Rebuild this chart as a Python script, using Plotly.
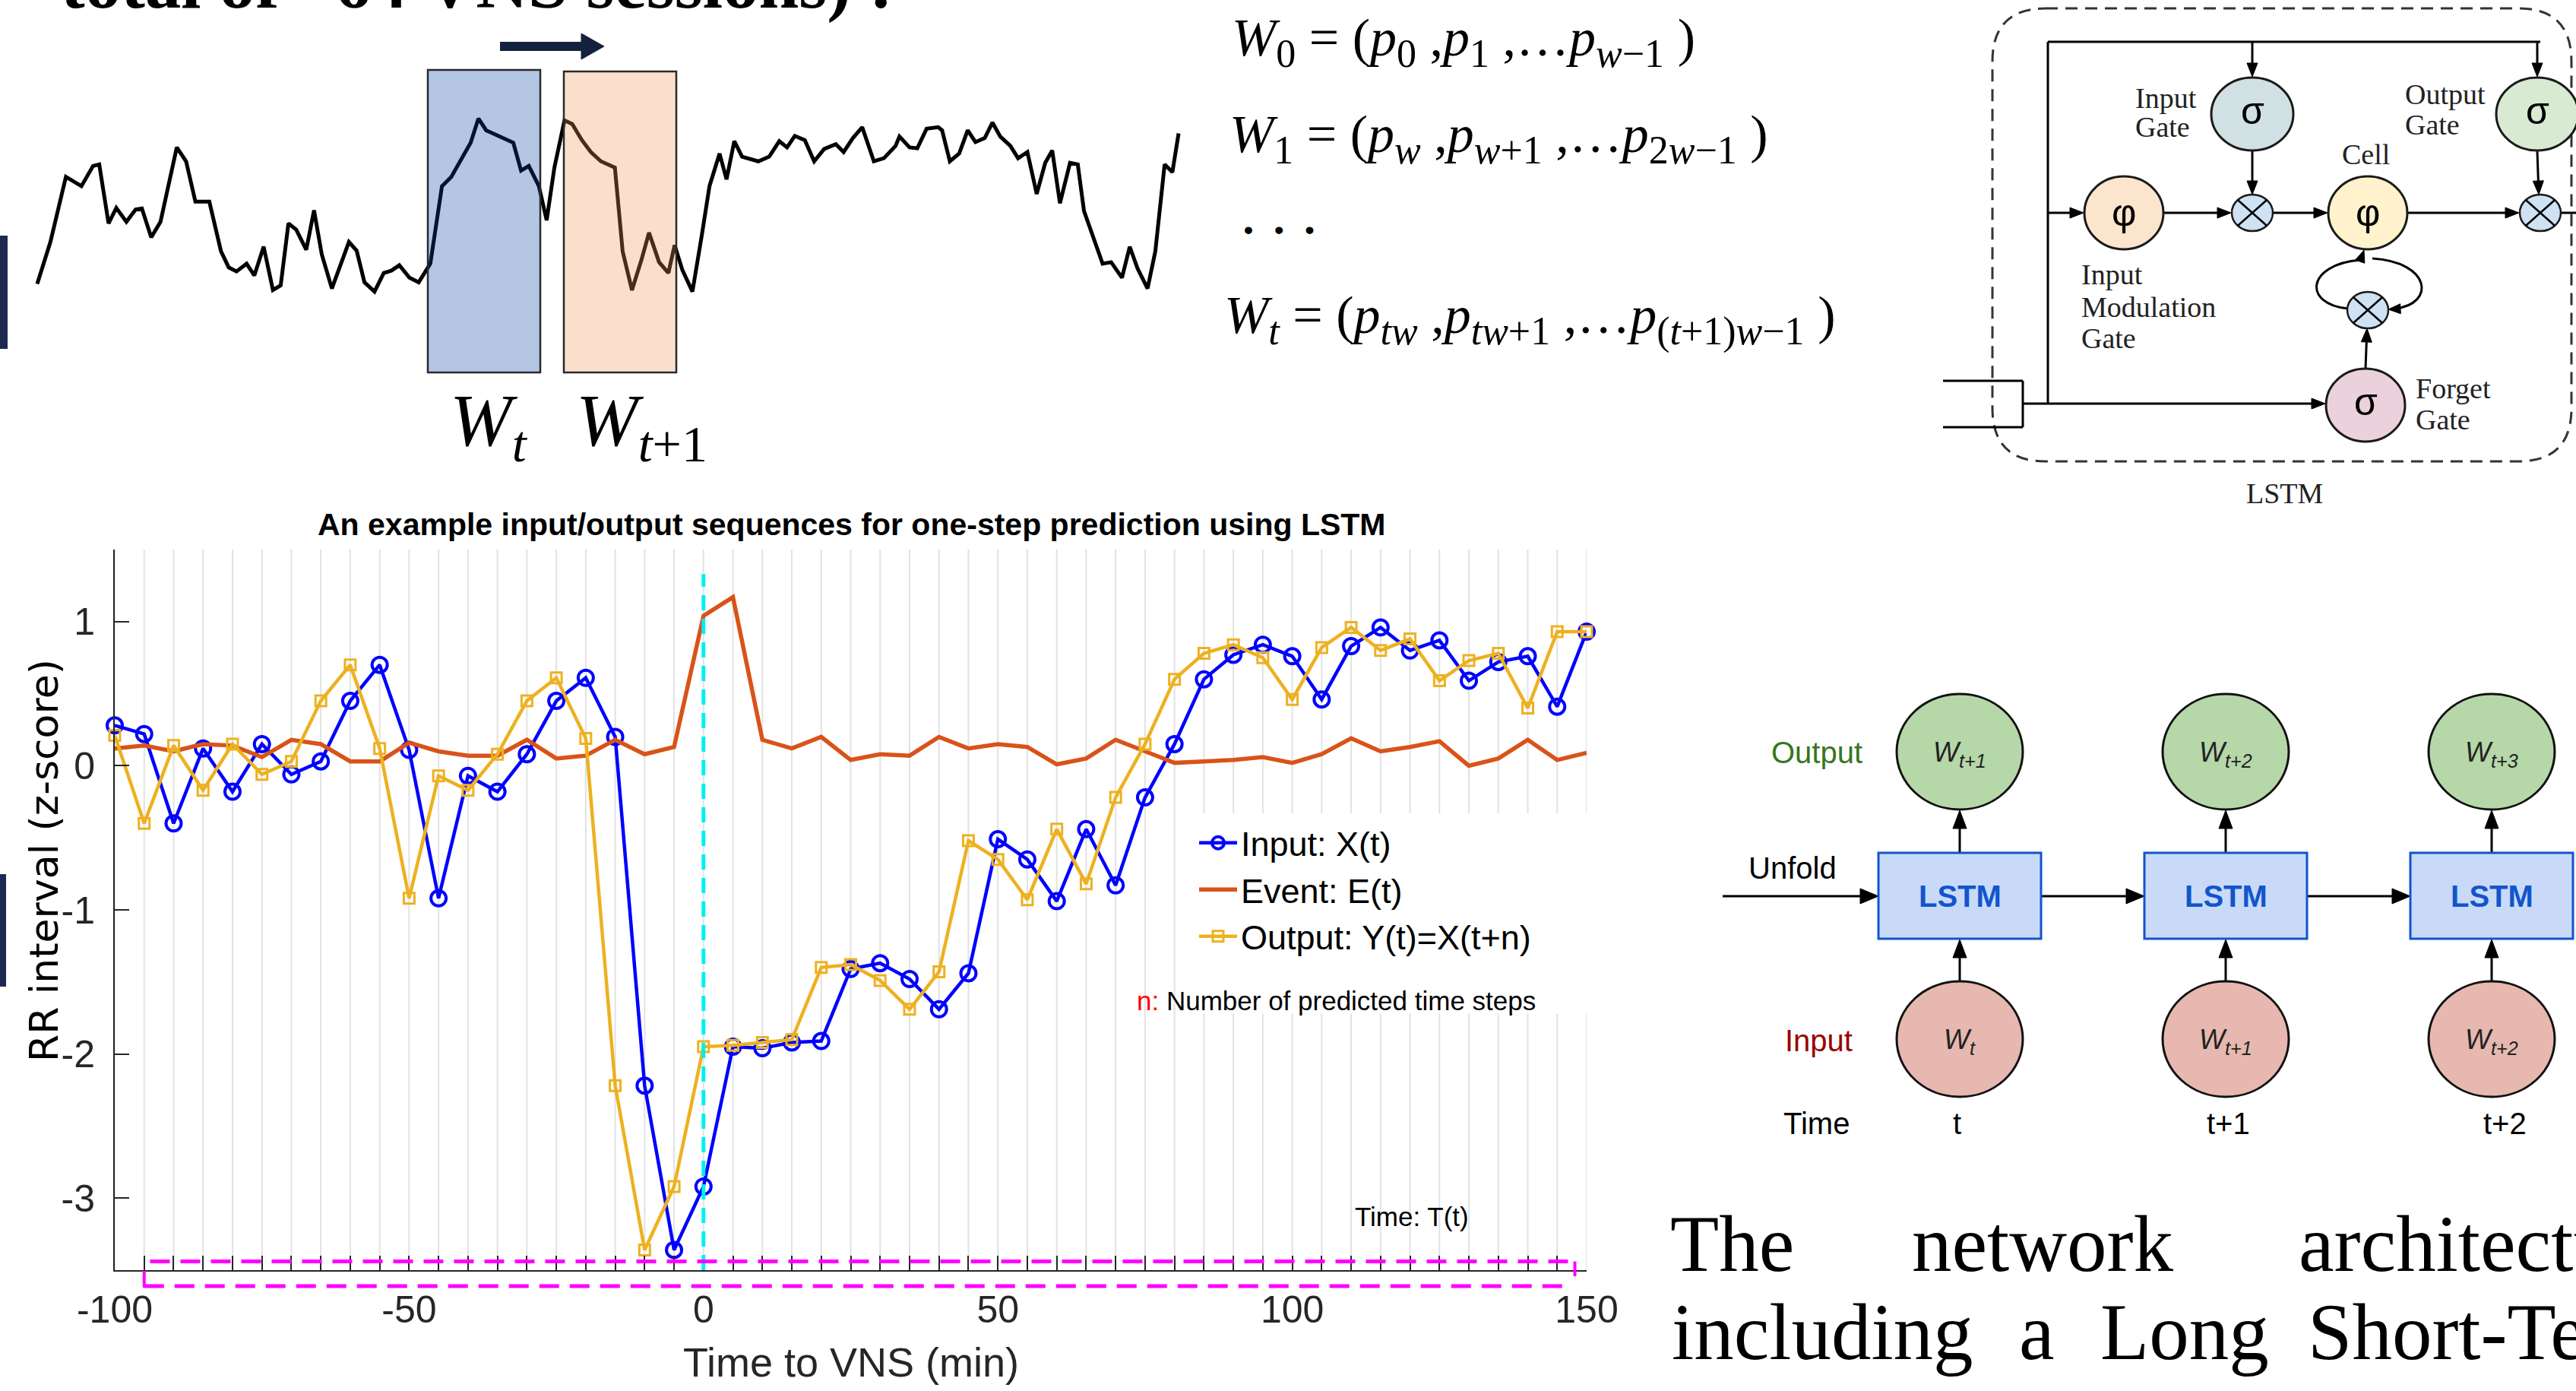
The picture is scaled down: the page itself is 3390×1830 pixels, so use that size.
import math
import plotly.graph_objects as go

W, H = 3390, 1830
SANS = "Liberation Sans, Arial, sans-serif"
SERIF = "Liberation Serif, Times New Roman, serif"


def X(p):
    return p / W


def Y(p):
    return 1 - p / H


# ---------------- main chart data ----------------
time_min = [-100, -95, -90, -85, -80, -75, -70, -65, -60, -55,
            -50, -45, -40, -35, -30, -25, -20, -15, -10, -5,
            0, 5, 10, 15, 20, 25, 30, 35, 40, 45,
            50, 55, 60, 65, 70, 75, 80, 85, 90, 95,
            100, 105, 110, 115, 120, 125, 130, 135, 140, 145, 150]
input_x = [0.28, 0.22, -0.40, 0.12, -0.18, 0.15, -0.06, 0.03, 0.45, 0.70,
           0.11, -0.92, -0.07, -0.18, 0.08, 0.45, 0.61, 0.20, -2.22, -3.36,
           -2.92, -1.95, -1.96, -1.92, -1.91, -1.41, -1.37, -1.48, -1.69, -1.44,
           -0.51, -0.65, -0.94, -0.44, -0.83, -0.22, 0.15, 0.60, 0.77, 0.84,
           0.76, 0.46, 0.83, 0.96, 0.80, 0.87, 0.59, 0.72, 0.76, 0.41, 0.93]
event_e = [0.12, 0.14, 0.10, 0.15, 0.14, 0.06, 0.18, 0.15, 0.03, 0.03,
           0.16, 0.10, 0.07, 0.07, 0.18, 0.05, 0.07, 0.18, 0.08, 0.13,
           1.04, 1.17, 0.18, 0.12, 0.20, 0.04, 0.08, 0.07, 0.20, 0.12,
           0.15, 0.13, 0.01, 0.05, 0.18, 0.10, 0.02, 0.03, 0.04, 0.06,
           0.02, 0.08, 0.19, 0.10, 0.13, 0.17, 0.00, 0.05, 0.18, 0.04, 0.09]
output_y = [0.21, -0.40, 0.14, -0.17, 0.15, -0.06, 0.03, 0.45, 0.70, 0.12,
            -0.92, -0.07, -0.17, 0.08, 0.45, 0.61, 0.19, -2.22, -3.36, -2.92,
            -1.95, -1.94, -1.92, -1.90, -1.40, -1.38, -1.49, -1.69, -1.43, -0.52,
            -0.65, -0.93, -0.44, -0.82, -0.22, 0.15, 0.60, 0.78, 0.84, 0.75,
            0.46, 0.82, 0.96, 0.80, 0.88, 0.59, 0.73, 0.78, 0.40, 0.93, 0.93]
xtick_labels = {-100: "-100", -50: "-50", 0: "0", 50: "50", 100: "100", 150: "150"}
ytick_vals = [-3, -2, -1, 0, 1]
ytick_text = ["-3", "-2", "-1", "0", "1"]

# ---------------- top-left RR signal sketch ----------------
sig_t = [48, 65, 85, 105, 120, 128, 140, 150, 163, 175, 183, 195, 207, 228, 240, 252, 270, 285,
         295, 305, 318, 328, 340, 352, 362, 372, 382, 395, 405, 415, 428, 450, 460, 470, 483,
         495, 505, 515, 528, 540, 555, 570, 582, 595, 607, 617, 627, 640, 655, 662, 672, 682,
         695, 705, 715, 728, 738, 750, 762, 775, 793, 803, 815, 827, 837, 850, 862, 870, 880,
         893, 905, 915, 928, 937, 947, 957, 978, 992, 1005, 1015, 1025, 1038, 1050, 1063, 1078,
         1088, 1100, 1112, 1127, 1140, 1155, 1160, 1173, 1183, 1195, 1210, 1215, 1225, 1237,
         1248, 1258, 1270, 1280, 1290, 1303, 1313, 1325, 1337, 1348, 1357, 1367, 1380, 1390,
         1398, 1410, 1422, 1433, 1447, 1457, 1467, 1480, 1490, 1502, 1512, 1520]
sig_v = [0.85, 2.20, 4.30, 4.00, 4.65, 4.70, 2.80, 3.30, 2.85, 3.25, 3.28, 2.35, 2.85, 5.25, 4.80,
         3.50, 3.50, 1.90, 1.38, 1.25, 1.50, 1.12, 2.05, 0.65, 0.80, 2.80, 2.60, 1.95, 3.22, 1.80,
         0.70, 2.20, 1.92, 0.90, 0.60, 1.20, 1.28, 1.45, 1.05, 0.90, 1.50, 4.00, 4.30, 4.90, 5.40,
         6.18, 5.80, 5.65, 5.48, 5.40, 4.50, 4.65, 4.00, 2.90, 4.60, 6.12, 6.00, 5.50, 5.10, 4.80,
         4.60, 1.90, 0.65, 1.60, 2.50, 1.55, 1.20, 2.10, 1.30, 0.60, 2.40, 4.00, 5.05, 4.22, 5.45,
         4.95, 4.80, 4.95, 5.45, 5.25, 5.62, 5.48, 4.80, 5.20, 5.35, 5.10, 5.55, 5.90, 4.80, 4.90,
         5.30, 5.60, 5.25, 5.22, 5.85, 5.90, 5.80, 4.80, 5.05, 5.80, 5.42, 5.55, 6.05, 5.60, 5.30,
         4.90, 5.10, 3.75, 4.75, 5.15, 3.45, 4.75, 4.70, 3.20, 2.35, 1.50, 1.55, 1.05, 2.05, 1.35,
         0.70, 1.90, 4.70, 4.45, 5.70]

# main axes placement (pixels)
AX_L, AX_R, AX_T, AX_B = 151, 2088, 723, 1671
XR = [-100, 150]
YR = [-3.5, 1.5]


def tx(v):
    return AX_L + (v - XR[0]) / (XR[1] - XR[0]) * (AX_R - AX_L)


def ty(v):
    return AX_T + (YR[1] - v) / (YR[1] - YR[0]) * (AX_B - AX_T)


shapes, annos = [], []


def seg(x0, y0, x1, y1, color="black", width=3, dash=None, layer="above"):
    ln = dict(color=color, width=width)
    if dash:
        ln["dash"] = dash
    shapes.append(dict(type="line", xref="paper", yref="paper", x0=X(x0), y0=Y(y0),
                       x1=X(x1), y1=Y(y1), line=ln, layer=layer))


def box(x0, y0, x1, y1, fill="rgba(0,0,0,0)", lc="rgba(0,0,0,0)", lw=0, opacity=1):
    shapes.append(dict(type="rect", xref="paper", yref="paper", x0=X(x0), y0=Y(y1),
                       x1=X(x1), y1=Y(y0), fillcolor=fill,
                       line=dict(color=lc, width=lw), opacity=opacity, layer="above"))


def oval(cx, cy, rx, ry, fill, lc="#1a1a1a", lw=3):
    shapes.append(dict(type="circle", xref="paper", yref="paper", x0=X(cx - rx), x1=X(cx + rx),
                       y0=Y(cy + ry), y1=Y(cy - ry), fillcolor=fill,
                       line=dict(color=lc, width=lw), layer="above"))


def pathshape(d, fill=None, lc="black", lw=3, dash=None):
    ln = dict(color=lc, width=lw)
    if dash:
        ln["dash"] = dash
    shapes.append(dict(type="path", xref="paper", yref="paper", path=d,
                       fillcolor=fill or "rgba(0,0,0,0)", line=ln, layer="above"))


def P(x, y):
    return f"{X(x):.6f},{Y(y):.6f}"


def head(x1, y1, ux, uy, hl, hw, color):
    n = math.hypot(ux, uy)
    ux, uy = ux / n, uy / n
    bx, by = x1 - ux * hl, y1 - uy * hl
    nx, ny = -uy, ux
    d = ("M " + P(x1, y1) + " L " + P(bx + nx * hw / 2, by + ny * hw / 2) +
         " L " + P(bx - nx * hw / 2, by - ny * hw / 2) + " Z")
    pathshape(d, fill=color, lc=color, lw=1)


def arrow(x0, y0, x1, y1, color="black", width=3, hl=18, hw=14):
    L = math.hypot(x1 - x0, y1 - y0)
    ux, uy = (x1 - x0) / L, (y1 - y0) / L
    seg(x0, y0, x1 - ux * hl * 0.9, y1 - uy * hl * 0.9, color, width)
    head(x1, y1, ux, uy, hl, hw, color)


def txt(x, y, s, size, color="black", family=SANS, xa="center", ya="middle", angle=0):
    annos.append(dict(xref="paper", yref="paper", x=X(x), y=Y(y), text=s, showarrow=False,
                      font=dict(size=size, color=color, family=family), xanchor=xa,
                      yanchor=ya, textangle=angle, borderpad=0))


def sub(s, px):
    return f"<sub><span style='font-size:{px}px'>{s}</span></sub>"


# ---------------- main chart decorations ----------------
grid_shapes = []
for v in time_min:
    if v >= 85:
        spans = [(YR[1], -0.33), (-1.72, YR[0])]
    else:
        spans = [(YR[1], YR[0])]
    for a, b in spans:
        grid_shapes.append(dict(type="line", xref="x", yref="y", x0=v, x1=v, y0=a, y1=b,
                                line=dict(color="#E2E2E2", width=2), layer="below"))

# VNS onset (cyan) and time arrows (magenta)
grid_shapes.append(dict(type="line", xref="x", yref="y", x0=0, x1=0, y0=YR[0], y1=1.33,
                        line=dict(color="#00F0F0", width=5, dash="20px,11px"), layer="above"))
grid_shapes.append(dict(type="line", xref="x", yref="y", x0=-94, x1=148, y0=-3.44, y1=-3.44,
                        line=dict(color="#FF00FF", width=5, dash="26px,14px"), layer="above"))
seg(tx(148), ty(-3.44), tx(148), AX_B + 8, "#FF00FF", 4)
seg(tx(-95), AX_B + 21, tx(147), AX_B + 21, "#FF00FF", 5, dash="26px,14px")
seg(tx(-95), AX_B + 1, tx(-95), AX_B + 23, "#FF00FF", 4)

txt(1120, 690, "<b>An example input/output sequences for one-step prediction using LSTM</b>", 41)
txt(1120, 1792, "Time to VNS (min)", 54, color="#262626")
txt(58, 1132, "RR interval (z-score)", 52, family="DejaVu Sans, Verdana, sans-serif", angle=-90)
txt(1495, 1316, "<span style='color:#FF0000'>n:</span> Number of predicted time steps", 35, xa="left")
txt(1782, 1600, "Time: T(t)", 35, xa="left")

# ---------------- slide decorations ----------------
box(0, 310, 10, 459, fill="#1F2850")
box(0, 1150, 8, 1298, fill="#1F2850")

annos.append(dict(xref="paper", yref="paper", x=X(79), y=1 + 22 / H, xanchor="left", yanchor="middle",
                  text="<b>total of ~64 VNS sessions) :</b>", showarrow=False, borderpad=0,
                  font=dict(size=95, family=SERIF, color="black")))

# sliding windows
box(563, 92, 711, 490, fill="#0541A5", opacity=0.3)
box(742, 94, 890, 490, fill="#EB9455", opacity=0.3)
box(563, 92, 711, 490, lc="#2a2a2a", lw=2.5)
box(742, 94, 890, 490, lc="#2a2a2a", lw=2.5)
seg(658, 61, 770, 61, "#14213D", 12)
head(795, 61, 1, 0, 30, 34, "#14213D")
txt(643, 560, "<i>W</i>" + sub("<i>t</i>", 68), 98, family=SERIF)
txt(844, 560, "<i>W</i>" + sub("<i>t</i>+1", 68), 98, family=SERIF)

# window equations
S = 52
txt(1620, 55, "<i>W</i>" + sub("0", S) + " = (<i>p</i>" + sub("0", S) + " ,<i>p</i>" + sub("1", S) +
    " ,…<i>p</i>" + sub("<i>w</i>−1", S) + " )", 70, family=SERIF, xa="left")
txt(1617, 182, "<i>W</i>" + sub("1", S) + " = (<i>p</i>" + sub("<i>w</i>", S) + " ,<i>p</i>" +
    sub("<i>w</i>+1", S) + " ,…<i>p</i>" + sub("2<i>w</i>−1", S) + " )", 70, family=SERIF, xa="left")
txt(1636, 302, "<b>•   •   •</b>", 34, family=SANS, xa="left")
txt(1610, 420, "<i>W</i>" + sub("<i>t</i>", S) + " = (<i>p</i>" + sub("<i>tw</i>", S) + " ,<i>p</i>" +
    sub("<i>tw</i>+1", S) + " ,…<i>p</i>" + sub("(<i>t</i>+1)<i>w</i>−1", S) + " )", 70,
    family=SERIF, xa="left")

# LSTM cell diagram
r = 70
L_, R_, T_, B_ = 2622, 3384, 11, 607
d = ("M " + P(L_ + r, T_) + " L " + P(R_ - r, T_) + " Q " + P(R_, T_) + " " + P(R_, T_ + r) +
     " L " + P(R_, B_ - r) + " Q " + P(R_, B_) + " " + P(R_ - r, B_) +
     " L " + P(L_ + r, B_) + " Q " + P(L_, B_) + " " + P(L_, B_ - r) +
     " L " + P(L_, T_ + r) + " Q " + P(L_, T_) + " " + P(L_ + r, T_) + " Z")
pathshape(d, lc="#333333", lw=3, dash="16px,10px")
seg(2695, 55, 3343, 55)
seg(2695, 55, 2695, 530)
arrow(2964, 55, 2964, 101)
arrow(3339, 55, 3339, 101)
arrow(2695, 280, 2742, 280)
arrow(2848, 280, 2936, 280)
arrow(2992, 280, 3063, 280)
arrow(3169, 280, 3315, 280)
seg(3371, 280, 3395, 280)
arrow(2964, 199, 2964, 256)
arrow(3339, 199, 3341, 256)
arrow(3113, 485, 3115, 432)
seg(2557, 501, 2662, 501)
seg(2662, 501, 2662, 562)
seg(2557, 562, 2662, 562)
arrow(2662, 531, 3060, 531)
pathshape("M " + P(3090, 406) + " C " + P(3030, 400) + " " + P(3035, 348) + " " + P(3106, 342))
head(3111, 329, 0.35, -1, 16, 13, "black")
pathshape("M " + P(3122, 340) + " C " + P(3200, 345) + " " + P(3205, 400) + " " + P(3152, 406))
head(3143, 407, -1, 0.05, 16, 13, "black")
oval(2964, 150, 54, 48, "#D0E0E3")
oval(3339, 150, 54, 48, "#D9EAD3")
oval(2795, 280, 52, 48, "#FCE5CD")
oval(3116, 280, 52, 48, "#FFF2CC")
oval(3113, 533, 52, 48, "#EAD1DC")
for cx, cy in [(2964, 280), (3343, 280), (3116, 408)]:
    oval(cx, cy, 27, 24, "#CFE2F3", lw=2.5)
    k = 0.7
    seg(cx - 27 * k, cy - 24 * k, cx + 27 * k, cy + 24 * k, width=2.5)
    seg(cx - 27 * k, cy + 24 * k, cx + 27 * k, cy - 24 * k, width=2.5)
for cx, cy, s in [(2964, 146, "σ"), (3339, 146, "σ"), (3113, 529, "σ"), (2795, 280, "φ"), (3116, 280, "φ")]:
    txt(cx, cy, s, 50)
for x, y, s, xa in [(2809, 129, "Input", "left"), (2809, 167, "Gate", "left"),
                    (3164, 124, "Output", "left"), (3164, 164, "Gate", "left"),
                    (3113, 203, "Cell", "center"),
                    (2738, 361, "Input", "left"), (2738, 404, "Modulation", "left"), (2738, 445, "Gate", "left"),
                    (3178, 511, "Forget", "left"), (3178, 552, "Gate", "left"),
                    (3006, 649, "LSTM", "center")]:
    txt(x, y, s, 38, color="#222222", family=SERIF, xa=xa)

# unfolded LSTM diagram
cols = [2579, 2929, 3279]
for i, cx in enumerate(cols):
    arrow(cx, 1291, cx, 1236, hl=24, hw=18)
    arrow(cx, 1122, cx, 1066, hl=24, hw=18)
arrow(2267, 1179, 2472, 1179, hl=24, hw=20)
arrow(2686, 1179, 2822, 1179, hl=24, hw=20)
arrow(3036, 1179, 3172, 1179, hl=24, hw=20)
out_labels = ["<i>W</i><sub><i>t+1</i></sub>", "<i>W</i><sub><i>t+2</i></sub>", "<i>W</i><sub><i>t+3</i></sub>"]
in_labels = ["<i>W</i><sub><i>t</i></sub>", "<i>W</i><sub><i>t+1</i></sub>", "<i>W</i><sub><i>t+2</i></sub>"]
for i, cx in enumerate(cols):
    oval(cx, 989, 83, 76, "#B6D7A8", lc="#111111", lw=3)
    oval(cx, 1367, 83, 76, "#E6B8AF", lc="#111111", lw=3)
    box(cx - 107, 1122, cx + 107, 1235, fill="#C9DAF8", lc="#1155CC", lw=3)
    txt(cx, 1179, "<b>LSTM</b>", 40, color="#1155CC")
    txt(cx, 992, out_labels[i], 36, color="#222222")
    txt(cx, 1370, in_labels[i], 36, color="#222222")
txt(2391, 990, "Output", 40, color="#38761D")
txt(2359, 1142, "Unfold", 40)
txt(2393, 1369, "Input", 40, color="#990000")
txt(2390, 1478, "Time", 40)
txt(2575, 1478, "t", 40)
txt(2932, 1478, "t+1", 40)
txt(3296, 1478, "t+2", 40)

# caption text (justified)
for x, s in [(2197, "The"), (2515, "network"), (3024, "architecture")]:
    txt(x, 1636, s, 105, family=SERIF, xa="left")
for x, s in [(2199, "including"), (2656, "a"), (2763, "Long"), (3036, "Short-Term")]:
    txt(x, 1752, s, 105, family=SERIF, xa="left")

# ---------------- figure ----------------
fig = go.Figure()
fig.add_trace(go.Scatter(x=time_min, y=input_x, name="Input: X(t)", mode="lines+markers",
                         line=dict(color="#0000FF", width=4.5),
                         marker=dict(symbol="circle-open", size=20, color="#0000FF", line=dict(width=4)),
                         cliponaxis=False, hoverinfo="skip"))
fig.add_trace(go.Scatter(x=time_min, y=event_e, name="Event: E(t)", mode="lines",
                         line=dict(color="#D95319", width=5.5), cliponaxis=False, hoverinfo="skip"))
fig.add_trace(go.Scatter(x=time_min, y=output_y, name="Output: Y(t)=X(t+n)", mode="lines+markers",
                         line=dict(color="#EDB120", width=4.5),
                         marker=dict(symbol="square-open", size=14, color="#EDB120", line=dict(width=3)),
                         cliponaxis=False, hoverinfo="skip"))
fig.add_trace(go.Scatter(x=sig_t, y=sig_v, xaxis="x2", yaxis="y2", mode="lines",
                         line=dict(color="black", width=5), showlegend=False, hoverinfo="skip"))

fig.update_layout(
    width=W, height=H, autosize=False,
    margin=dict(l=0, r=0, t=0, b=0, pad=0, autoexpand=False),
    paper_bgcolor="white", plot_bgcolor="white",
    hovermode=False,
    showlegend=True,
    legend=dict(x=X(1573), y=Y(1073), xanchor="left", yanchor="top", bgcolor="white",
                borderwidth=0, font=dict(family=SANS, size=45, color="black"),
                itemwidth=50, tracegroupgap=0),
    xaxis=dict(domain=[X(AX_L), X(AX_R)], range=XR, tickmode="array", tickvals=time_min,
               ticktext=[xtick_labels.get(v, "") for v in time_min],
               ticks="inside", ticklen=19, tickwidth=2, tickcolor="#262626",
               showline=True, linecolor="#262626", linewidth=2, showgrid=False, zeroline=False,
               tickfont=dict(family=SANS, size=50, color="#262626"), ticklabelstandoff=7,
               anchor="y", fixedrange=True, automargin=False),
    yaxis=dict(domain=[Y(AX_B), Y(AX_T)], range=YR, tickmode="array", tickvals=ytick_vals,
               ticktext=ytick_text, ticks="inside", ticklen=19, tickwidth=2, tickcolor="#262626",
               showline=True, linecolor="#262626", linewidth=2, showgrid=False, zeroline=False,
               tickfont=dict(family=SANS, size=50, color="#262626"), ticklabelstandoff=14,
               anchor="x", fixedrange=True, automargin=False),
    xaxis2=dict(domain=[0, X(1600)], range=[0, 1568], visible=False, anchor="y2",
                fixedrange=True, automargin=False),
    yaxis2=dict(domain=[Y(640), 1], range=[-5.68, 10], visible=False, anchor="x2",
                fixedrange=True, automargin=False),
    shapes=grid_shapes + shapes,
    annotations=annos,
)

fig.write_html("out.html", config={"displayModeBar": False, "staticPlot": True},
               post_script="document.body.style.margin='0';document.body.style.overflow='hidden';")
